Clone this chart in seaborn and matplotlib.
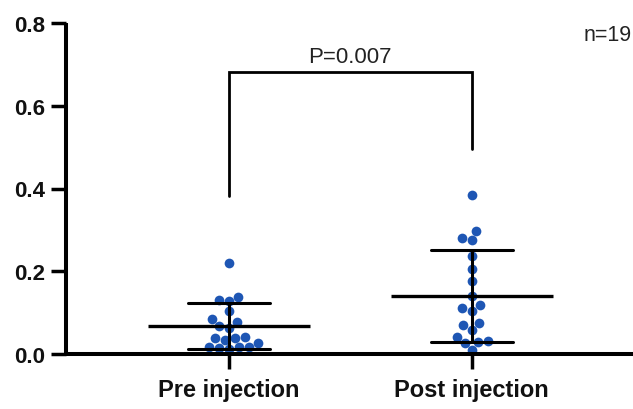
import matplotlib
matplotlib.use("Agg")
import matplotlib.pyplot as plt
import seaborn as sns
import pandas as pd

# ---- data ----
groups = ["Pre injection", "Post injection"]
pre_values = [0.220, 0.130, 0.128, 0.138, 0.104, 0.085, 0.077, 0.063, 0.068, 0.041,
              0.039, 0.034, 0.039, 0.027, 0.015, 0.017, 0.012, 0.017, 0.017]
post_values = [0.384, 0.297, 0.276, 0.280, 0.237, 0.205, 0.176, 0.140, 0.111, 0.104,
               0.118, 0.070, 0.058, 0.075, 0.041, 0.031, 0.027, 0.029, 0.010]
y_ticks = [0.0, 0.2, 0.4, 0.6, 0.8]
p_text = "P=0.007"
n_text = "n=19"

df = pd.DataFrame({
    "group": [groups[0]] * len(pre_values) + [groups[1]] * len(post_values),
    "value": pre_values + post_values,
})

sns.set_theme(style="ticks")
plt.rcParams["font.family"] = ["Liberation Sans", "DejaVu Sans"]

fig = plt.figure(figsize=(6.33, 4.10), dpi=100)
ax = fig.add_axes([66 / 633, 55 / 410, 1 - 66 / 633, 331 / 410])

dot_color = "#1E56B4"
sns.swarmplot(data=df, x="group", y="value", order=groups, color=dot_color,
              size=7, linewidth=0, ax=ax, zorder=2)

sns.pointplot(data=df, x="group", y="value", order=groups, errorbar="sd",
              capsize=0.34, color="black", markers="_", linestyles="none",
              markersize=117, markeredgewidth=2.4,
              err_kws={"linewidth": 2.2}, ax=ax, zorder=3)

ax.set_ylim(0, 0.8)
ax.set_xlim(-0.67, 1.663)
ax.set_yticks(y_ticks)
ax.set_yticklabels([f"{t:.1f}" for t in y_ticks])
ax.set_xlabel("")
ax.set_ylabel("")

for s in ["top", "right"]:
    ax.spines[s].set_visible(False)
for s in ["left", "bottom"]:
    ax.spines[s].set_linewidth(2.9)
    ax.spines[s].set_color("black")
    ax.spines[s].set_capstyle("butt")

ax.tick_params(axis="both", length=11, width=2.5, color="black")
ax.tick_params(axis="y", pad=4)
ax.tick_params(axis="x", pad=6)
for lab in ax.get_yticklabels():
    lab.set_fontweight("bold")
    lab.set_fontsize(16)
    lab.set_color("#111111")
for lab in ax.get_xticklabels():
    lab.set_fontweight("bold")
    lab.set_fontsize(17)
    lab.set_color("#111111")

# significance bracket
ax.plot([0, 0, 1, 1], [0.382, 0.682, 0.682, 0.495], color="black",
        linewidth=2.0, solid_joinstyle="miter", clip_on=False, zorder=4)
ax.text(0.5, 0.693, p_text, ha="center", va="bottom", fontsize=16, color="#222222")
ax.text(0.997, 0.773, n_text, ha="right", va="center", fontsize=15.5,
        color="#222222", transform=ax.get_yaxis_transform())

fig.savefig("out.png", dpi=100)
